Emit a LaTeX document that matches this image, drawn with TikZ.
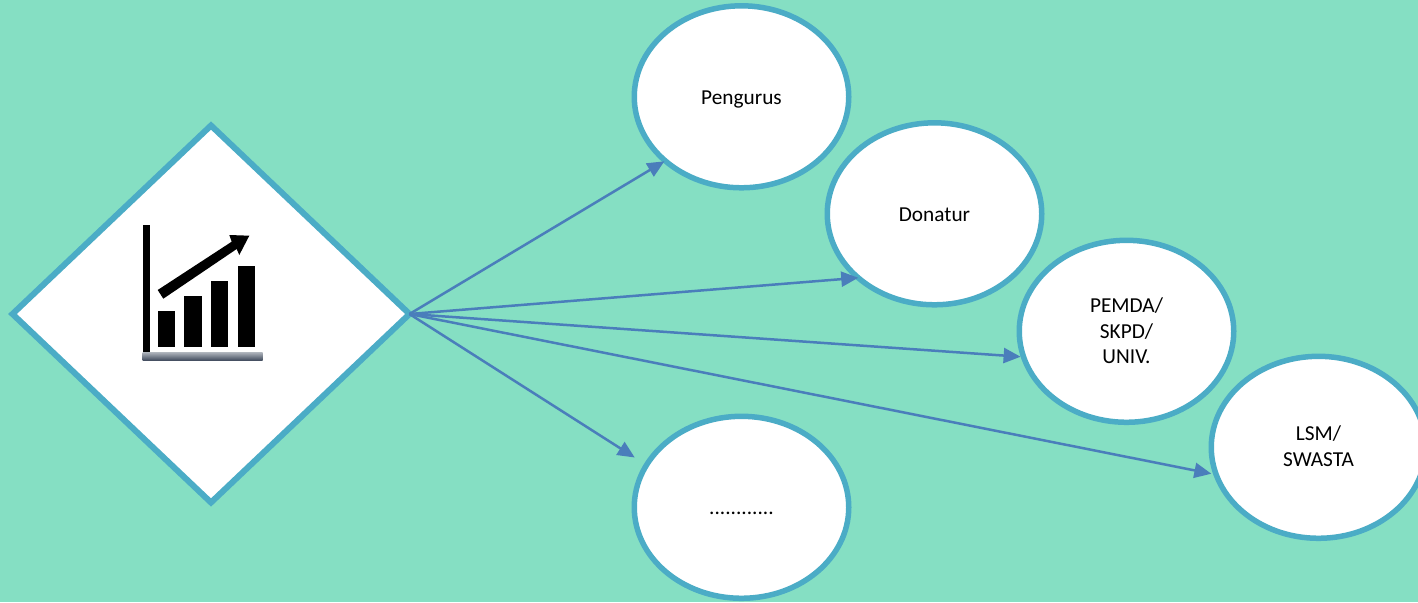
\documentclass[tikz,border=0pt]{standalone}
\usepackage{fontspec}
\setmainfont{Carlito}
\usetikzlibrary{shapes.geometric,arrows.meta}
\definecolor{bgc}{HTML}{85DFC3}
\definecolor{edgec}{HTML}{4BACC6}
\definecolor{arrowc}{HTML}{4A7EBB}
\definecolor{axistop}{HTML}{A8AEB6}
\definecolor{axisbot}{HTML}{3F4A5C}
\newsavebox{\bubblebox}
\newcommand{\bubbletext}[2]{\sbox{\bubblebox}{\begin{tabular}{@{}c@{}}#2\end{tabular}}\raisebox{#1}[\ht\bubblebox][\dp\bubblebox]{\usebox{\bubblebox}}}
\tikzset{
  bubble/.style={ellipse,draw=edgec,fill=white,line width=5.5pt,minimum width=214.5pt,minimum height=182pt,inner sep=0pt,outer sep=0pt,align=center,font=\fontsize{21.3}{25.5}\selectfont},
  bigdiamond/.style={diamond,draw=edgec,fill=white,line width=6pt,minimum width=397pt,minimum height=377pt,inner sep=0pt,outer sep=0pt},
  link/.style={draw=arrowc,line width=2.5pt,-{Triangle[length=17pt,width=15pt]}},
  chartink/.style={fill=black,draw=none}
}
\begin{document}
\begin{tikzpicture}[x=1pt,y=-1pt]
\useasboundingbox (0,0) rectangle (1418,602);
\clip (0,0) rectangle (1418,602);
\fill[bgc] (0,0) rectangle (1418,602);
\node[bigdiamond] (hub) at (211,314) {};
\node[bubble] (pengurus) at (741.5,96.8) {\bubbletext{-3pt}{Pengurus}};
\node[bubble] (donatur) at (934.5,213.8) {\bubbletext{-3pt}{Donatur}};
\node[bubble] (pemda) at (1126.5,331.3) {\bubbletext{-2pt}{PEMDA/\\SKPD/\\UNIV.}};
\node[bubble] (lsm) at (1318.5,447.3) {\bubbletext{-1pt}{LSM/\\SWASTA}};
\node[bubble] (dots) at (741.5,507.3) {\bubbletext{-2pt}{............}};
% chart icon
\fill[chartink] (142.7,225) rectangle (149.6,353);
\shade[top color=axistop,bottom color=axisbot] (142.7,352.7) rectangle (262.7,360.5);
\fill[chartink] (157.7,311) rectangle (175,347);
\fill[chartink] (184.3,296) rectangle (201.7,347);
\fill[chartink] (211,281) rectangle (228.3,347);
\fill[chartink] (237.7,266) rectangle (255,347);
\fill[chartink] (157.7,290) -- (231.7,241.7) -- (229.3,235) -- (249.3,235.7) -- (239.3,255) -- (236.7,249) -- (163.3,298.7) -- cycle;
% connectors
\draw[link,shorten >=1pt] (hub.east) -- (pengurus.220.6);
\draw[link,shorten >=0pt] (hub.east) -- (donatur.220);
\draw[link,shorten >=3pt] (hub.east) -- (pemda.194.5);
\draw[link,shorten >=5pt] (hub.east) -- (lsm.195.5);
\draw[link,shorten >=14pt] (hub.east) -- (dots.156.8);
\end{tikzpicture}
\end{document}
